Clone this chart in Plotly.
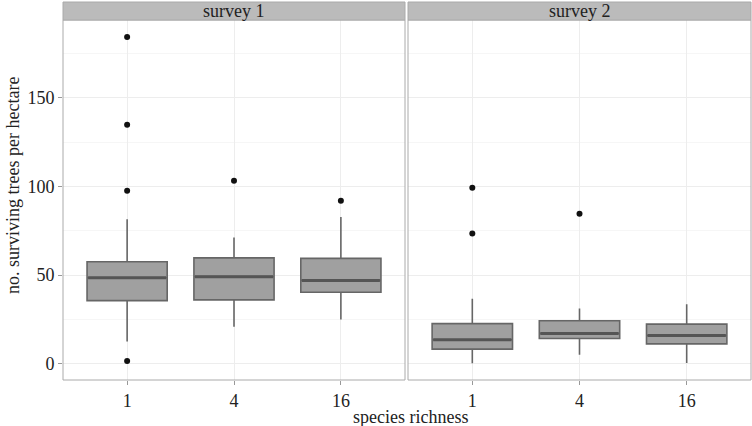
import plotly.graph_objects as go

# ---- data ----
categories = ["1", "4", "16"]
surveys = ["survey 1", "survey 2"]

lower_whisker = {"survey 1": [12.5, 20.8, 24.9], "survey 2": [0.2, 5.1, 0.4]}
q1 = {"survey 1": [35.6, 36.0, 40.3], "survey 2": [8.2, 14.2, 11.2]}
median = {"survey 1": [48.5, 49.1, 47.0], "survey 2": [13.5, 17.0, 15.9]}
q3 = {"survey 1": [57.5, 59.7, 59.4], "survey 2": [22.6, 24.2, 22.3]}
upper_whisker = {"survey 1": [81.5, 71.2, 82.8], "survey 2": [36.7, 31.1, 33.5]}
outliers = {
    "survey 1": {"1": [184.3, 134.8, 97.6, 1.5], "4": [103.2], "16": [91.9]},
    "survey 2": {"1": [99.2, 73.4], "4": [84.6], "16": []},
}

y_ticks = [0, 50, 100, 150]
y_minor = [25, 75, 125, 175]
x_title = "species richness"
y_title = "no. surviving trees per hectare"

FONT = "Liberation Serif"
FS = 18
BOX_FILL = "#a0a0a0"
BOX_LINE = "#666666"
MED_LINE = "#555555"
BOX_W = 0.75

fig = go.Figure()
pos = [1, 2, 3]
for i, s in enumerate(surveys):
    xa = "x" if i == 0 else "x2"
    ya = "y" if i == 0 else "y2"
    fig.add_trace(go.Box(
        x=pos, q1=q1[s], median=median[s], q3=q3[s],
        lowerfence=lower_whisker[s], upperfence=upper_whisker[s],
        width=BOX_W, fillcolor=BOX_FILL, line=dict(color=BOX_LINE, width=1.6),
        whiskerwidth=0, boxpoints=False, xaxis=xa, yaxis=ya,
        hoverinfo="skip", showlegend=False,
    ))
    # median emphasis
    mx, my = [], []
    for p, m in zip(pos, median[s]):
        mx += [p - BOX_W / 2 + 0.01, p + BOX_W / 2 - 0.01, None]
        my += [m, m, None]
    fig.add_trace(go.Scatter(x=mx, y=my, mode="lines",
                             line=dict(color=MED_LINE, width=3),
                             xaxis=xa, yaxis=ya, showlegend=False, hoverinfo="skip"))
    ox, oy = [], []
    for p, c in zip(pos, categories):
        for v in outliers[s][c]:
            ox.append(p)
            oy.append(v)
    fig.add_trace(go.Scatter(x=ox, y=oy, mode="markers",
                             marker=dict(color="#111111", size=6),
                             xaxis=xa, yaxis=ya, showlegend=False, hoverinfo="skip"))

W, H = 752, 426
L, R, T, B = 63, 1, 2, 46
pw = W - L - R
ph = H - T - B
d1 = [0, (405 - L) / pw]
d2 = [(408 - L) / pw, 1]
strip_h = 18
ytop = 1 - strip_h / ph

yr = [-9.2, 193.9]
common_x = dict(range=[0.4, 3.6], tickmode="array", tickvals=pos, ticktext=categories,
                showgrid=True, gridcolor="#ededed", gridwidth=1, zeroline=False,
                ticks="outside", ticklen=4, tickcolor="#999999",
                tickfont=dict(family=FONT, size=FS, color="#222222"),
                showline=False, automargin=False)
common_y = dict(range=yr, tickmode="array", tickvals=y_ticks,
                showgrid=True, gridcolor="#ededed", gridwidth=1, zeroline=False,
                minor=dict(tickvals=y_minor, showgrid=True, gridcolor="#f6f6f6", gridwidth=1, ticks=""),
                showline=False, automargin=False)

fig.update_layout(
    width=W, height=H,
    margin=dict(l=L, r=R, t=T, b=B, autoexpand=False),
    paper_bgcolor="white", plot_bgcolor="white",
    font=dict(family=FONT, size=FS, color="#222222"),
    xaxis=dict(domain=d1, anchor="y", **common_x),
    xaxis2=dict(domain=d2, anchor="y2", **common_x),
    yaxis=dict(domain=[0, ytop], anchor="x", ticks="outside", ticklen=4, tickcolor="#999999",
               tickfont=dict(family=FONT, size=FS, color="#222222"), **common_y),
    yaxis2=dict(domain=[0, ytop], anchor="x2", showticklabels=False, ticks="", **common_y),
    showlegend=False,
)

shapes = []
annotations = []
for i, (d, s) in enumerate(zip([d1, d2], surveys)):
    # panel border
    shapes.append(dict(type="rect", xref="paper", yref="paper", x0=d[0], x1=d[1], y0=0, y1=ytop,
                       line=dict(color="#aaaaaa", width=1), fillcolor="rgba(0,0,0,0)", layer="above"))
    # strip
    shapes.append(dict(type="rect", xref="paper", yref="paper", x0=d[0], x1=d[1], y0=ytop, y1=1,
                       line=dict(color="#aaaaaa", width=1), fillcolor="#bbbbbb", layer="above"))
    annotations.append(dict(text=s, xref="paper", yref="paper", x=(d[0] + d[1]) / 2,
                            y=(ytop + 1) / 2, showarrow=False, xanchor="center", yanchor="middle",
                            font=dict(family=FONT, size=FS, color="#222222")))

annotations.append(dict(text=x_title, xref="paper", yref="paper", x=(d1[0] + d2[1]) / 2 + 0.005,
                        y=0, yshift=-25, showarrow=False, xanchor="center", yanchor="top",
                        font=dict(family=FONT, size=FS, color="#222222")))
annotations.append(dict(text=y_title, xref="paper", yref="paper", x=0, xshift=-50,
                        y=ytop / 2, yshift=14, textangle=-90, showarrow=False, xanchor="center",
                        yanchor="middle", font=dict(family=FONT, size=FS, color="#222222")))
fig.update_layout(shapes=shapes, annotations=annotations)

fig.write_html("out.html", config={"displayModeBar": False},
               post_script="document.body.style.margin='0px';")
